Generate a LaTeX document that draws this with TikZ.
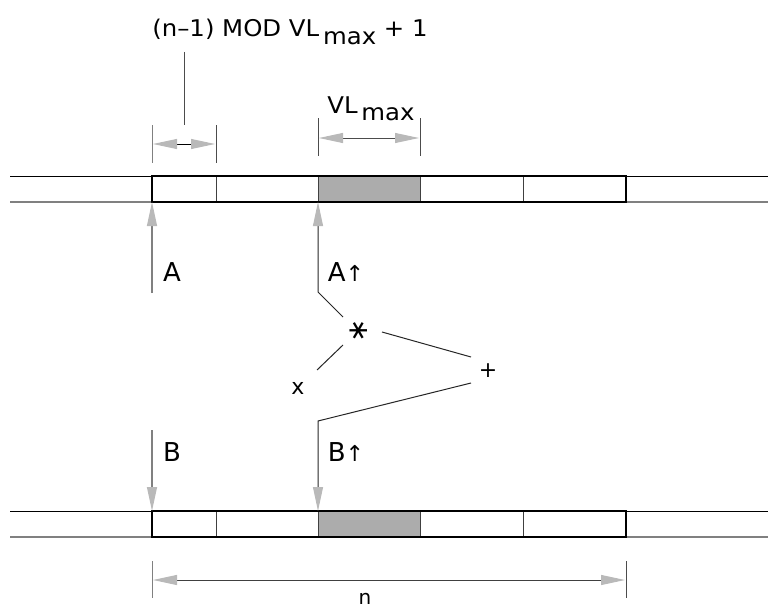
\documentclass[tikz,border=0pt]{standalone}
\usepackage{fontspec}
\setmainfont{DejaVu Sans}
\newfontfamily\widefont[FakeStretch=1.06]{DejaVu Sans}
\usetikzlibrary{arrows.meta}
\tikzset{
  gtip/.tip={Triangle[length=24pt,width=10pt,color=gray!55]},
  outer/.style={line width=1pt},
  outergray/.style={line width=1.6pt,gray},
  boxline/.style={line width=2.2pt},
  divider/.style={line width=1pt,black!75},
  tick/.style={line width=1pt,black!70},
  dimarrow/.style={line width=1pt,gtip-gtip},
  vshaft/.style={line width=1.2pt,gray,-gtip},
  conn/.style={line width=1pt,black!85},
  lbl/.style={inner sep=0pt,font=\fontsize{26}{28}\selectfont},
  toplbl/.style={inner sep=0pt,font=\widefont\fontsize{23}{25}\selectfont},
  oplbl/.style={inner sep=0pt,font=\fontsize{22}{24}\selectfont},
}
\begin{document}
\begin{tikzpicture}[x=1pt,y=-1pt]
\useasboundingbox (0,0) rectangle (768,610);
% ---------- bars ----------
\foreach \yt/\yb/\nm in {176/202/t, 511/537/b}{
  \fill[gray!65] (318,\yt) rectangle (420,\yb);
  \draw[outer] (10,\yt) -- (768,\yt);
  \draw[outergray] (10,\yb) -- (152,\yb);
  \draw[outergray] (626,\yb) -- (768,\yb);
  \draw[divider] (216,\yt) -- (216,\yb);
  \draw[divider] (420,\yt) -- (420,\yb);
  \draw[divider] (523,\yt) -- (523,\yb);
  \draw[divider] (318,\yt) -- (318,\yb);
  \draw[boxline] (152,\yt) rectangle (626,\yb);
}
% ---------- top label ----------
\node[toplbl,anchor=base] (toplabel) at (290,37)
  {(n–1) MOD VL\,\raisebox{-8pt}{max} + 1};
\coordinate (lt) at (184,52);
\coordinate (lb) at (184,125);
\draw[tick] (lt) -- (lb);
% dimension 1
\coordinate (d1a) at (152,125); \coordinate (d1b) at (152,163);
\coordinate (d1c) at (216,125); \coordinate (d1d) at (216,163);
\draw[tick,gray] (d1a) -- (d1b);
\draw[tick] (d1c) -- (d1d);
\coordinate (d1l) at (153,144); \coordinate (d1r) at (215,144);
\draw[dimarrow] (d1l) -- (d1r);
% dimension 2
\node[toplbl,anchor=base] (vlmax) at (371,113) {VL\,\raisebox{-7pt}{max}};
\coordinate (d2a) at (318,118); \coordinate (d2b) at (318,156);
\coordinate (d2c) at (420,118); \coordinate (d2d) at (420,156);
\draw[tick] (d2a) -- (d2b);
\draw[tick] (d2c) -- (d2d);
\coordinate (d2l) at (319,138); \coordinate (d2r) at (419,138);
\draw[dimarrow,black!70] (d2l) -- (d2r);
% bottom dimension
\coordinate (d3a) at (152,561); \coordinate (d3b) at (152,598);
\coordinate (d3c) at (626,561); \coordinate (d3d) at (626,598);
\draw[tick,gray] (d3a) -- (d3b);
\draw[tick] (d3c) -- (d3d);
\coordinate (d3l) at (153,580); \coordinate (d3r) at (625,580);
\draw[dimarrow,black!75] (d3l) -- (d3r);
\node[inner sep=0pt,text depth=0pt,font=\fontsize{20}{21}\selectfont,anchor=base] (n) at (365,604) {n};
% ---------- vertical arrows ----------
\coordinate (Afrom) at (152,293); \coordinate (Ato) at (152,202);
\draw[vshaft] (Afrom) -- (Ato);
\node[lbl] (A) at (172,272) {A};
\coordinate (Bfrom) at (152,430); \coordinate (Bto) at (152,511);
\draw[vshaft] (Bfrom) -- (Bto);
\node[lbl] (B) at (172,452) {B};
% ---------- operators ----------
\node[inner sep=0pt,font=\fontsize{28}{30}\selectfont] (star) at (359,331) {\rotatebox{90}{∗}};
\node[oplbl] (xx) at (298,388) {x};
\node[oplbl] (plus) at (488,371) {+};
\node[lbl] (Aup) at (346,272) {A{\fontsize{22}{24}\selectfont ↑}};
\node[lbl] (Bup) at (346,452) {B{\fontsize{22}{24}\selectfont ↑}};
\coordinate (s1) at (343,317); \coordinate (s1b) at (318,292); \coordinate (Aupto) at (318,202);
\draw[conn,-gtip] (s1) -- (s1b) -- (Aupto);
\coordinate (s2) at (343,345); \coordinate (x1) at (317,370);
\draw[conn] (s2) -- (x1);
\coordinate (s3) at (382,332); \coordinate (p1) at (471,357);
\draw[conn] (s3) -- (p1);
\coordinate (p2) at (471,383); \coordinate (bk) at (318,421); \coordinate (Bupto) at (318,511);
\draw[conn,-gtip] (p2) -- (bk) -- (Bupto);
\end{tikzpicture}
\end{document}
